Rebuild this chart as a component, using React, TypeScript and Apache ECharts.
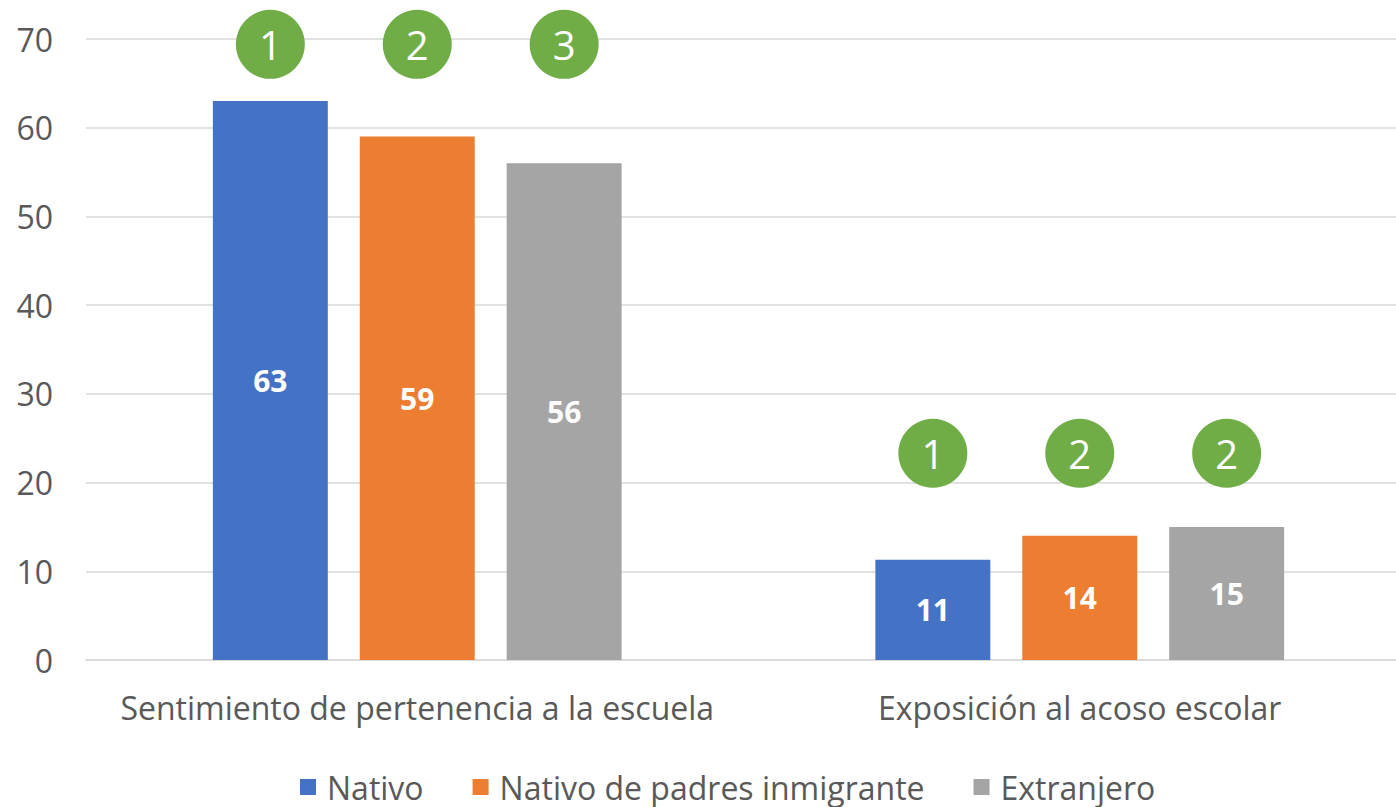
import React, { useEffect, useRef } from "react";
import * as echarts from "echarts";

const categories = ["Sentimiento de pertenencia a la escuela", "Exposición al acoso escolar"];
const seriesNames = ["Nativo", "Nativo de padres inmigrante", "Extranjero"];
const nativo = [63, 11.3];
const nativoPadres = [59, 14];
const extranjero = [56, 15];
const rankNativo = ["1", "1"];
const rankNativoPadres = ["2", "2"];
const rankExtranjero = ["3", "2"];
const rankLevels = [69.4, 23.3];
const yTicks = [0, 70, 10];

const colors = ["#4472C4", "#ED7D31", "#A5A5A5"];
const FONT = "'Open Sans', 'Noto Sans', sans-serif";

export default function App() {
  const ref = useRef<HTMLDivElement>(null);
  useEffect(() => {
    document.body.style.margin = "0";
    document.body.style.overflow = "hidden";
    const chart = echarts.init(ref.current!, undefined, { renderer: "svg" });
    const values = [nativo, nativoPadres, extranjero];
    const ranks = [rankNativo, rankNativoPadres, rankExtranjero];
    chart.setOption({
      animation: false,
      textStyle: { fontFamily: FONT },
      legend: {
        data: seriesNames,
        left: 295,
        top: 766,
        icon: "rect",
        itemWidth: 16,
        itemHeight: 16,
        itemGap: 49,
        textStyle: {
          fontSize: 32,
          lineHeight: 32,
          color: "#595959",
          fontFamily: FONT,
          padding: [0, 0, 0, 6],
        },
      },
      grid: { left: 86, right: 0, top: 39, bottom: 147, containLabel: false },
      xAxis: {
        type: "category",
        data: categories,
        axisLine: { lineStyle: { color: "#D9D9D9", width: 1.5 } },
        axisTick: { show: false },
        axisLabel: { fontSize: 32, color: "#595959", margin: 31, interval: 0, fontFamily: FONT },
      },
      yAxis: {
        type: "value",
        min: yTicks[0],
        max: yTicks[1],
        interval: yTicks[2],
        axisLine: { show: false },
        axisTick: { show: false },
        splitLine: { lineStyle: { color: "#D9D9D9", width: 1.5 } },
        axisLabel: { fontSize: 32, color: "#595959", margin: 33, fontFamily: FONT },
      },
      series: seriesNames.map((name, i) => ({
        name,
        type: "bar",
        data: values[i],
        barGap: "27.8%",
        barCategoryGap: "38.3%",
        itemStyle: { color: colors[i] },
        label: {
          show: true,
          position: "inside",
          color: "#FFFFFF",
          fontSize: 30,
          fontWeight: "bold",
          fontFamily: FONT,
          formatter: (p: any) => String(Math.round(p.value)),
        },
        markPoint: {
          symbol: "circle",
          symbolSize: 69,
          itemStyle: { color: "#70AD47" },
          label: {
            show: true,
            color: "#FFFFFF",
            fontSize: 40,
            fontFamily: FONT,
            formatter: (p: any) => p.name,
          },
          data: categories.map((c, j) => ({
            name: ranks[i][j],
            coord: [j, rankLevels[j]],
          })),
        },
      })),
    });
    return () => chart.dispose();
  }, []);
  return <div ref={ref} style={{ width: 1411, height: 807 }} />;
}
